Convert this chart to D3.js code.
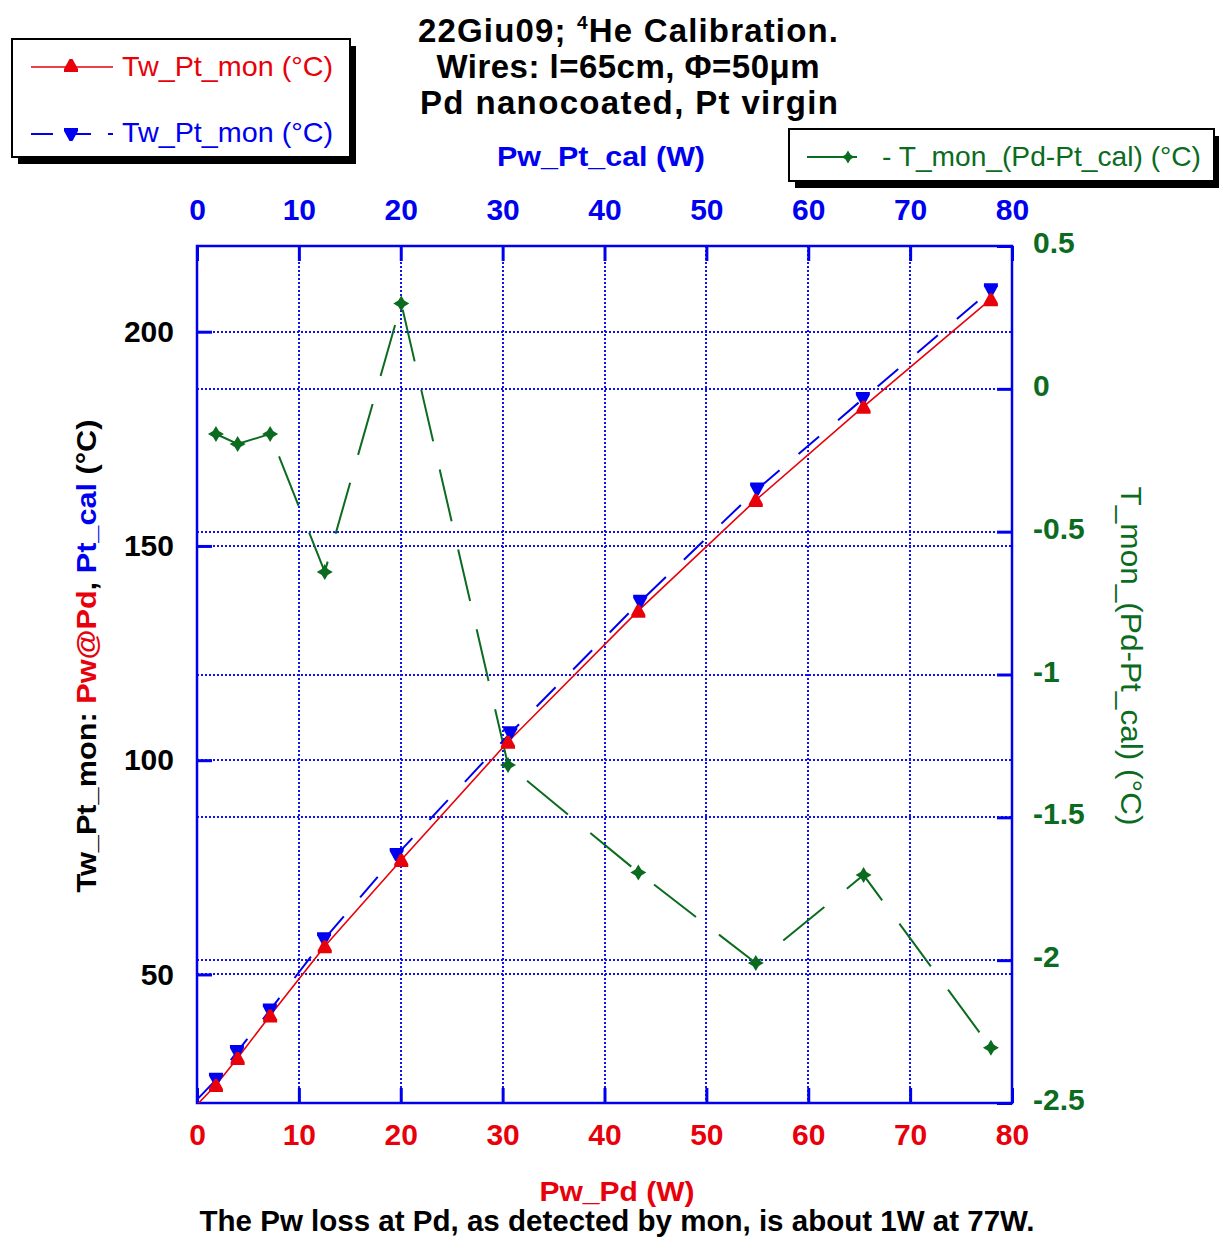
<!DOCTYPE html>
<html>
<head>
<meta charset="utf-8">
<script src="https://cdn.jsdelivr.net/npm/d3@7"></script>
<style>
body { margin: 0; background: #ffffff; }
svg { display: block; }
text { font-family: "Liberation Sans", Arial, Helvetica, sans-serif; }
</style>
</head>
<body>
<script>
// data
// red: Tw_Pt_mon vs Pw_Pd (bottom axis)
var pwPd = [0, 1.86, 3.99, 7.18, 12.54, 20.05, 30.53, 43.32, 54.85, 65.43, 77.93];
var twPtMonPd = [19.6, 24.2, 30.5, 40.4, 56.6, 76.7, 104.3, 134.9, 160.7, 182.5, 207.6];
// blue: Tw_Pt_mon vs Pw_Pt_cal (top axis)
var pwPtCal = [0, 1.86, 3.92, 7.15, 12.47, 19.6, 30.75, 43.5, 54.98, 65.36, 77.93];
var twPtMonCal = [20.8, 25.4, 31.9, 41.6, 58.2, 77.9, 106.3, 137.0, 163.2, 184.3, 209.7];
// green: T_mon_(Pd-Pt_cal) vs Pw_Pd (right axis)
var pwPdDiff = [1.86, 3.99, 7.18, 12.54, 20.05, 30.53, 43.32, 54.85, 65.43, 77.93];
var tMonDiff = [-0.158, -0.193, -0.158, -0.641, 0.299, -1.317, -1.693, -2.010, -1.702, -2.307];

var xTicks = [0, 10, 20, 30, 40, 50, 60, 70, 80];
var leftTicks = [50, 100, 150, 200];
var rightTicks = [0.5, 0, -0.5, -1, -1.5, -2, -2.5];

var w = 1219;
var h = 1240;
var pLeft = 197, pRight = 1012, pTop = 246, pBottom = 1103;

var RED = "#e8000a", BLUE = "#0000f0", GREEN = "#0b6b1f";

var svg = d3.select("body")
			.append("svg")
			.attr("width", w)
			.attr("height", h);

//scales
var x_scale = d3.scaleLinear().domain([0, 80]).range([pLeft, pRight]);
var x_top = d3.scaleLinear().domain([0, 80]).range([pLeft, pRight]);
var y_left = d3.scaleLinear().domain([20, 220]).range([pBottom, pTop]);
var y_right = d3.scaleLinear().domain([-2.5, 0.5]).range([pBottom, pTop]);

svg.append("defs").append("clipPath")
	.attr("id", "plotclip")
	.append("rect")
	.attr("x", pLeft).attr("y", pTop)
	.attr("width", pRight - pLeft).attr("height", pBottom - pTop);

// dotted grid
var grid = svg.append("g")
	.attr("stroke", "#1010f0")
	.attr("stroke-width", 2)
	.attr("stroke-dasharray", "2,2");

grid.selectAll("line.vx")
	.data(xTicks.filter(function(d){ return d > 0 && d < 80; }))
	.enter().append("line")
	.attr("x1", function(d){ return Math.round(x_scale(d)); })
	.attr("x2", function(d){ return Math.round(x_scale(d)); })
	.attr("y1", pTop).attr("y2", pBottom);

grid.selectAll("line.hl")
	.data(leftTicks)
	.enter().append("line")
	.attr("x1", pLeft).attr("x2", pRight)
	.attr("y1", function(d){ return Math.round(y_left(d)); })
	.attr("y2", function(d){ return Math.round(y_left(d)); });

grid.selectAll("line.hr")
	.data(rightTicks.filter(function(d){ return d < 0.5 && d > -2.5; }))
	.enter().append("line")
	.attr("x1", pLeft).attr("x2", pRight)
	.attr("y1", function(d){ return Math.round(y_right(d)); })
	.attr("y2", function(d){ return Math.round(y_right(d)); });

// axes, ticks pointing inward
var x_axis = d3.axisBottom(x_scale).tickValues(xTicks).tickSize(-15).tickPadding(21).tickFormat(d3.format("d"));
var top_axis = d3.axisTop(x_top).tickValues(xTicks).tickSize(-15).tickPadding(26).tickFormat(d3.format("d"));
var y_axis = d3.axisLeft(y_left).tickValues(leftTicks).tickSize(-15).tickPadding(23).tickFormat(d3.format("d"));
var r_axis = d3.axisRight(y_right).tickValues(rightTicks).tickSize(-15).tickPadding(21).tickFormat(function(d){ return String(d); });

function styleAxis(g, col)
{
	g.select(".domain").remove();
	g.selectAll(".tick line").attr("stroke", BLUE).attr("stroke-width", 3);
	g.selectAll(".tick text")
		.attr("fill", col)
		.style("font-size", "30px")
		.style("font-weight", "bold");
}

svg.append("g").attr("transform", "translate(0," + pBottom + ")").call(x_axis).call(styleAxis, RED);
svg.append("g").attr("transform", "translate(0," + pTop + ")").call(top_axis).call(styleAxis, BLUE);
svg.append("g").attr("transform", "translate(" + pLeft + ",0)").call(y_axis).call(styleAxis, "#000");
svg.append("g").attr("transform", "translate(" + pRight + ",0)").call(r_axis).call(styleAxis, GREEN)
	.selectAll(".tick text").attr("y", -3);

// plot frame
svg.append("rect")
	.attr("x", pLeft).attr("y", pTop)
	.attr("width", pRight - pLeft).attr("height", pBottom - pTop)
	.attr("fill", "none")
	.attr("stroke", BLUE)
	.attr("stroke-width", 2.5);

// series
var redData = pwPd.map(function(d, i){ return [d, twPtMonPd[i]]; });
var blueData = pwPtCal.map(function(d, i){ return [d, twPtMonCal[i]]; });
var greenData = pwPdDiff.map(function(d, i){ return [d, tMonDiff[i]]; });

var plot = svg.append("g").attr("clip-path", "url(#plotclip)");

plot.append("path")
	.datum(greenData)
	.attr("fill", "none")
	.attr("stroke", GREEN)
	.attr("stroke-width", 2)
	.attr("stroke-dasharray", "53,29")
	.attr("d", d3.line().x(function(d){ return x_scale(d[0]); }).y(function(d){ return y_right(d[1]); }));

plot.append("path")
	.datum(blueData)
	.attr("fill", "none")
	.attr("stroke", BLUE)
	.attr("stroke-width", 2)
	.attr("stroke-dasharray", "27,25")
	.attr("d", d3.line().x(function(d){ return x_top(d[0]); }).y(function(d){ return y_left(d[1]); }));

plot.append("path")
	.datum(redData)
	.attr("fill", "none")
	.attr("stroke", RED)
	.attr("stroke-width", 1.6)
	.attr("d", d3.line().x(function(d){ return x_scale(d[0]); }).y(function(d){ return y_left(d[1]); }));

var triUp = "M-1.5,-6L1.5,-6L7,4L7,7L-7,7L-7,4Z";
var triDown = "M-7,-7L7,-7L7,-4L1.5,6L-1.5,6L-7,-4Z";
var star = "M0,-8L3,-3L8,0L3,3L0,8L-3,3L-8,0L-3,-3Z";

svg.selectAll("path.gm")
	.data(greenData)
	.enter().append("path")
	.attr("d", star)
	.attr("fill", GREEN)
	.attr("transform", function(d){ return "translate(" + x_scale(d[0]) + "," + y_right(d[1]) + ")"; });

svg.selectAll("path.bm")
	.data(blueData.filter(function(d){ return d[0] > 0; }))
	.enter().append("path")
	.attr("d", triDown)
	.attr("fill", BLUE)
	.attr("transform", function(d){ return "translate(" + x_top(d[0]) + "," + y_left(d[1]) + ")"; });

svg.selectAll("path.rm")
	.data(redData.filter(function(d){ return d[0] > 0; }))
	.enter().append("path")
	.attr("d", triUp)
	.attr("fill", RED)
	.attr("transform", function(d){ return "translate(" + x_scale(d[0]) + "," + y_left(d[1]) + ")"; });

// title
var title = svg.append("g")
	.attr("text-anchor", "middle")
	.style("font-size", "33px")
	.style("font-weight", "bold");

var t1 = title.append("text").attr("x", 628).attr("y", 42)
	.attr("textLength", 420).attr("lengthAdjust", "spacing");
t1.append("tspan").text("22Giu09; ");
t1.append("tspan").attr("dy", -13).style("font-size", "19px").text("4");
t1.append("tspan").attr("dy", 13).text("He Calibration.");

title.append("text").attr("x", 628).attr("y", 78)
	.attr("textLength", 383).attr("lengthAdjust", "spacing")
	.text("Wires: l=65cm, \u03A6=50\u03BCm");
title.append("text").attr("x", 629).attr("y", 114)
	.attr("textLength", 418).attr("lengthAdjust", "spacing")
	.text("Pd nanocoated, Pt virgin");

// axis titles
svg.append("text")
	.attr("x", 601).attr("y", 166)
	.attr("text-anchor", "middle")
	.attr("fill", BLUE)
	.attr("textLength", 208).attr("lengthAdjust", "spacingAndGlyphs")
	.style("font-size", "28px").style("font-weight", "bold")
	.text("Pw_Pt_cal (W)");

svg.append("text")
	.attr("x", 617).attr("y", 1201)
	.attr("text-anchor", "middle")
	.attr("fill", RED)
	.attr("textLength", 155).attr("lengthAdjust", "spacingAndGlyphs")
	.style("font-size", "28px").style("font-weight", "bold")
	.text("Pw_Pd (W)");

svg.append("text")
	.attr("x", 617).attr("y", 1231)
	.attr("text-anchor", "middle")
	.attr("fill", "#000")
	.attr("textLength", 835).attr("lengthAdjust", "spacingAndGlyphs")
	.style("font-size", "30px").style("font-weight", "bold")
	.text("The Pw loss at Pd, as detected by mon, is about 1W at 77W.");

var yl = svg.append("text")
	.attr("transform", "translate(96,656) rotate(-90)")
	.attr("text-anchor", "middle")
	.attr("textLength", 473).attr("lengthAdjust", "spacingAndGlyphs")
	.style("font-size", "28px").style("font-weight", "bold");
yl.append("tspan").attr("fill", "#000").text("Tw_Pt_mon: ");
yl.append("tspan").attr("fill", RED).text("Pw@Pd");
yl.append("tspan").attr("fill", "#000").text(", ");
yl.append("tspan").attr("fill", BLUE).text("Pt_cal");
yl.append("tspan").attr("fill", "#000").text(" (\u00B0C)");

svg.append("text")
	.attr("transform", "translate(1121,656) rotate(90)")
	.attr("text-anchor", "middle")
	.attr("fill", GREEN)
	.attr("textLength", 339).attr("lengthAdjust", "spacingAndGlyphs")
	.style("font-size", "29px")
	.text("T_mon_(Pd-Pt_cal) (\u00B0C)");

// legends
function legendBox(x, y, bw, bh)
{
	svg.append("rect").attr("x", x + 6).attr("y", y + 7).attr("width", bw).attr("height", bh).attr("fill", "#000");
	svg.append("rect").attr("x", x).attr("y", y).attr("width", bw).attr("height", bh)
		.attr("fill", "#fff").attr("stroke", "#000").attr("stroke-width", 2);
}

legendBox(12, 39, 338, 118);
svg.append("line").attr("x1", 31).attr("x2", 113).attr("y1", 67).attr("y2", 67)
	.attr("stroke", RED).attr("stroke-width", 1.6);
svg.append("path").attr("d", triUp).attr("fill", RED).attr("transform", "translate(71,65)");
svg.append("text").attr("x", 122).attr("y", 76).attr("fill", RED)
	.attr("textLength", 211).attr("lengthAdjust", "spacingAndGlyphs")
	.style("font-size", "28px").text("Tw_Pt_mon (\u00B0C)");

svg.append("line").attr("x1", 31).attr("x2", 113).attr("y1", 134).attr("y2", 134)
	.attr("stroke", BLUE).attr("stroke-width", 2).attr("stroke-dasharray", "22,14,24,17");
svg.append("path").attr("d", triDown).attr("fill", BLUE).attr("transform", "translate(71,135)");
svg.append("text").attr("x", 122).attr("y", 142).attr("fill", BLUE)
	.attr("textLength", 211).attr("lengthAdjust", "spacingAndGlyphs")
	.style("font-size", "28px").text("Tw_Pt_mon (\u00B0C)");

legendBox(789, 129, 425, 52);
svg.append("line").attr("x1", 807).attr("x2", 857).attr("y1", 157).attr("y2", 157)
	.attr("stroke", GREEN).attr("stroke-width", 2);
svg.append("path").attr("d", star).attr("fill", GREEN).attr("transform", "translate(848,157) scale(0.8)");
svg.append("text").attr("x", 882).attr("y", 166).attr("fill", GREEN)
	.attr("textLength", 319).attr("lengthAdjust", "spacingAndGlyphs")
	.style("font-size", "28px").text("- T_mon_(Pd-Pt_cal) (\u00B0C)");
</script>
</body>
</html>
